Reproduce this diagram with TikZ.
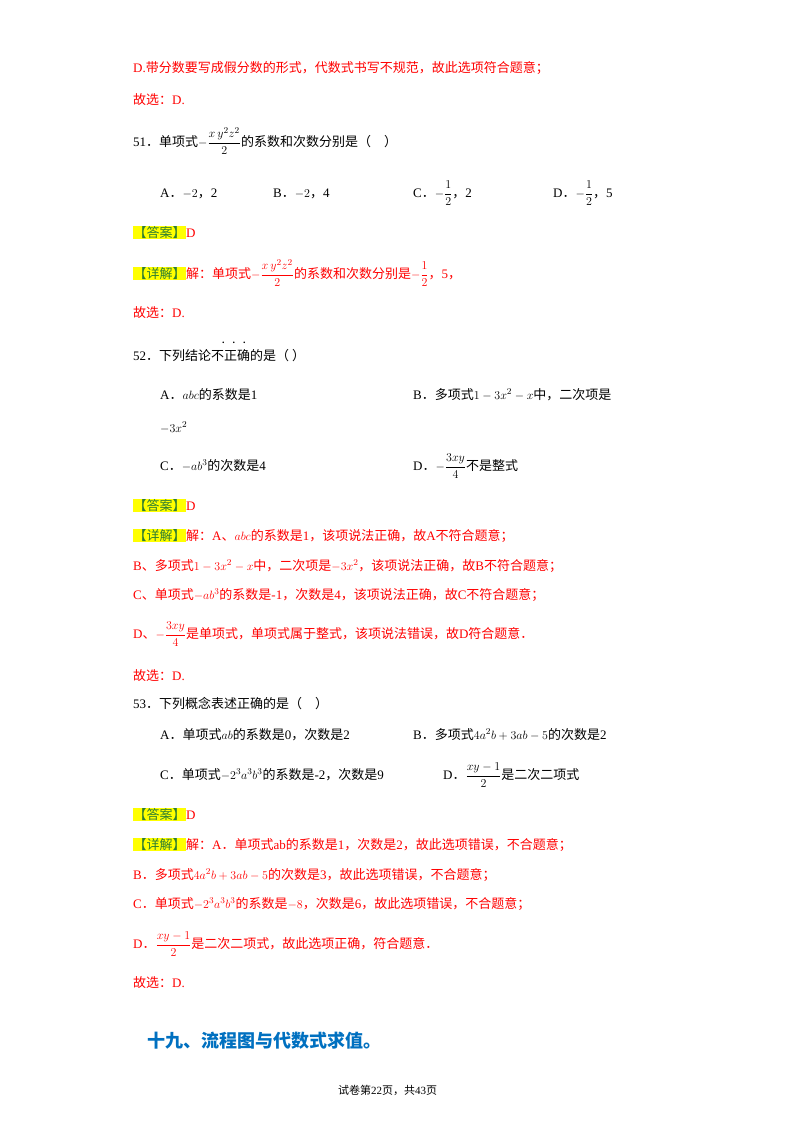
\documentclass[tikz,border=0pt]{standalone}
\usepackage{amsmath}
\usepackage{fontspec}
\setmainfont{Liberation Serif}
\newfontfamily\cjk{Noto Sans CJK SC}
\definecolor{rd}{HTML}{FF0000}
\definecolor{hl}{HTML}{FFFF00}
\definecolor{gr}{HTML}{2E7D32}
\definecolor{bl}{HTML}{0070C0}
\newcommand{\C}[1]{{\cjk #1}}
\newcommand{\dd}{\C{．}}
\newcommand{\cm}{\C{，}}
\newcommand{\hltag}[1]{{\setlength{\fboxsep}{0.5pt}\colorbox{hl}{\color{gr}\C{【#1】}}}}
\begin{document}
\begin{tikzpicture}[x=1pt,y=-1pt,
 t/.style={anchor=base west,inner sep=0pt,font=\fontsize{13}{15}\selectfont},
 r/.style={t,text=rd}]
\useasboundingbox (0,0) rectangle (800,1132);
\fill[white] (0,0) rectangle (800,1132);
\node[r] (l1) at (133,73) {D.\C{带分数要写成假分数的形式，代数式书写不规范，故此选项符合题意；}};
\node[r] (l2) at (133,104) {\C{故选：}D.};
\node[t] (q51) at (133,146) {51\dd\C{单项式}$-\dfrac{x\,y^2z^2}{2}$\C{的系数和次数分别是（\quad ）}};
\node[t] (a51) at (160,197) {A\dd$-2$\cm2};
\node[t] (b51) at (273,197) {B\dd$-2$\cm4};
\node[t] (c51) at (413,197) {C\dd$-\dfrac12$\cm2};
\node[t] (d51) at (553,197) {D\dd$-\dfrac12$\cm5};
\node[t] (an51) at (133,237) {\hltag{答案}\color{rd}D};
\node[r] (ex51) at (133,278) {\hltag{详解}\C{解：单项式}$-\dfrac{x\,y^2z^2}{2}$\C{的系数和次数分别是}$-\dfrac12$\cm5\cm};
\node[r] (g51) at (133,317) {\C{故选：}D.};
\node[t] (q52) at (133,360) {52\dd\C{下列结论不正确的是（\ ）}};
\node[t,font=\bfseries] at (222,343) {.\hspace{8pt}.\hspace{8pt}.};
\node[t] (a52) at (160,399) {A\dd$abc$\C{的系数是}1};
\node[t] (b52) at (413,399) {B\dd\C{多项式}$1-3x^2-x$\C{中，二次项是}};
\node[t] (b52b) at (160,432) {$-3x^2$};
\node[t] (c52) at (160,470) {C\dd$-ab^3$\C{的次数是}4};
\node[t] (d52) at (413,470) {D\dd$-\dfrac{3xy}{4}$\C{不是整式}};
\node[t] (an52) at (133,510) {\hltag{答案}\color{rd}D};
\node[r] (e1) at (133,540) {\hltag{详解}\C{解：}A\C{、}$abc$\C{的系数是}1\C{，该项说法正确，故}A\C{不符合题意；}};
\node[r] (e2) at (133,570) {B\C{、多项式}$1-3x^2-x$\C{中，二次项是}$-3x^2$\C{，该项说法正确，故}B\C{不符合题意；}};
\node[r] (e3) at (133,599) {C\C{、单项式}$-ab^3$\C{的系数是}-1\C{，次数是}4\C{，该项说法正确，故}C\C{不符合题意；}};
\node[r] (e4) at (133,638) {D\C{、}$-\dfrac{3xy}{4}$\C{是单项式，单项式属于整式，该项说法错误，故}D\C{符合题意．}};
\node[r] (g52) at (133,680) {\C{故选：}D.};
\node[t] (q53) at (133,708) {53\dd\C{下列概念表述正确的是（\quad ）}};
\node[t] (a53) at (160,739) {A\dd\C{单项式}$ab$\C{的系数是}0\C{，次数是}2};
\node[t] (b53) at (413,739) {B\dd\C{多项式}$4a^2b+3ab-5$\C{的次数是}2};
\node[t] (c53) at (160,779) {C\dd\C{单项式}$-2^3a^3b^3$\C{的系数是}-2\C{，次数是}9};
\node[t] (d53) at (443,779) {D\dd$\dfrac{xy-1}{2}$\C{是二次二项式}};
\node[t] (an53) at (133,819) {\hltag{答案}\color{rd}D};
\node[r] (f1) at (133,849) {\hltag{详解}\C{解：}A\dd\C{单项式}ab\C{的系数是}1\C{，次数是}2\C{，故此选项错误，不合题意；}};
\node[r] (f2) at (133,879) {B\dd\C{多项式}$4a^2b+3ab-5$\C{的次数是}3\C{，故此选项错误，不合题意；}};
\node[r] (f3) at (133,908) {C\dd\C{单项式}$-2^3a^3b^3$\C{的系数是}$-8$\C{，次数是}6\C{，故此选项错误，不合题意；}};
\node[r] (f4) at (133,948) {D\dd$\dfrac{xy-1}{2}$\C{是二次二项式，故此选项正确，符合题意．}};
\node[r] (g53) at (133,987) {\C{故选：}D.};
\node[t,text=bl,font=\fontsize{18}{20}\selectfont\cjk\bfseries] (h) at (147,1047) {十九、流程图与代数式求值。};
\node[t,font=\fontsize{11}{13}\selectfont] (ft) at (338,1094) {\C{试卷第}22\C{页，共}43\C{页}};
\end{tikzpicture}
\end{document}
